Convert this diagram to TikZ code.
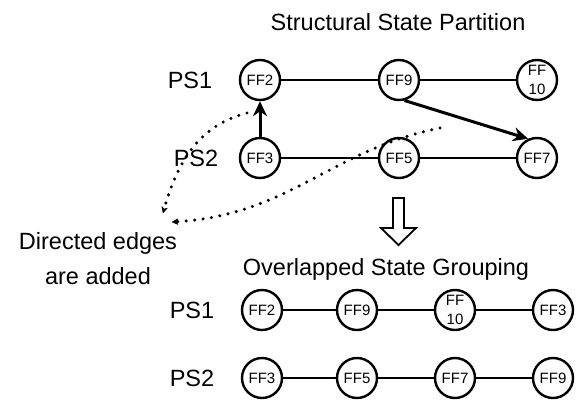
\documentclass[tikz,border=0pt]{standalone}
\usepackage{fontspec}
\setmainfont{Liberation Sans}
\usetikzlibrary{arrows.meta}
\begin{document}
\begin{tikzpicture}[x=1pt,y=-1pt,
  ff/.style={circle,draw,line width=2.4pt,minimum size=40pt,inner sep=0pt,
    font=\fontsize{15}{14}\selectfont,align=center,fill=white},
  lbl/.style={font=\fontsize{23.5}{27}\selectfont,inner sep=0pt},
  link/.style={line width=2.3pt},
  dirarrow/.style={line width=3pt,-{Stealth[length=15pt,width=14pt]}},
  dots/.style={line width=3.4pt,line cap=round,dash pattern=on 0pt off 8.5pt,
    -{Stealth[length=7pt,width=7pt,line width=0.6pt,round]}}]
\useasboundingbox (0,0) rectangle (581,408);

% titles
\node[lbl] (t1) at (398,22) {Structural State Partition};
\node[lbl] (t2) at (386,269) {Overlapped State Grouping};
\node[lbl,align=center,font=\fontsize{23.5}{35}\selectfont] (note) at (98,259) {Directed edges\\are added};

% partition, row labels
\node[lbl] (pa) at (190,80) {PS1};
\node[lbl] (pb) at (196,158) {PS2};

% partition, states
\node[ff] (a2) at (260,80) {FF2};
\node[ff] (a9) at (399,80) {FF9};
\node[ff] (a10) at (537,80) {FF\\[5pt]10};
\node[ff] (b3) at (260,158) {FF3};
\node[ff] (b5) at (399,158) {FF5};
\node[ff] (b7) at (537,158) {FF7};

\draw[link] (a2) -- (a9);
\draw[link] (a9) -- (a10);
\draw[link] (b3) -- (b5);
\draw[link] (b5) -- (b7);

% added directed edges
\draw[dirarrow] (b3) -- (a2);
\draw[dirarrow] (a9.-75) -- (b7.115);

% pointers from the note to the added edges
\coordinate (s1) at (247,113);
\coordinate (e1) at (163,213);
\coordinate (s2) at (440,128);
\coordinate (e2) at (172,222);
\draw[dots] (s1) .. controls (200,125) and (178,160) .. (e1);
\draw[dots] (s2) .. controls (330,150) and (290,215) .. (e2);

% hollow transition arrow
\draw[line width=1.8pt,line join=miter,fill=white]
  (393,198) -- (404,198) -- (404,228) -- (416,228) -- (398.5,245)
  -- (381,228) -- (393,228) -- cycle;

% grouping, row labels
\node[lbl] (qa) at (192,310) {PS1};
\node[lbl] (qb) at (192,378) {PS2};

% grouping, states
\node[ff] (c2) at (262,310) {FF2};
\node[ff] (c9) at (357,310) {FF9};
\node[ff] (c10) at (455,310) {FF\\[5pt]10};
\node[ff] (c3) at (553,310) {FF3};
\node[ff] (d3) at (262,378) {FF3};
\node[ff] (d5) at (357,378) {FF5};
\node[ff] (d7) at (455,378) {FF7};
\node[ff] (d9) at (553,378) {FF9};

\draw[link] (c2) -- (c9) -- (c10) -- (c3);
\draw[link] (d3) -- (d5) -- (d7) -- (d9);
\end{tikzpicture}
\end{document}
